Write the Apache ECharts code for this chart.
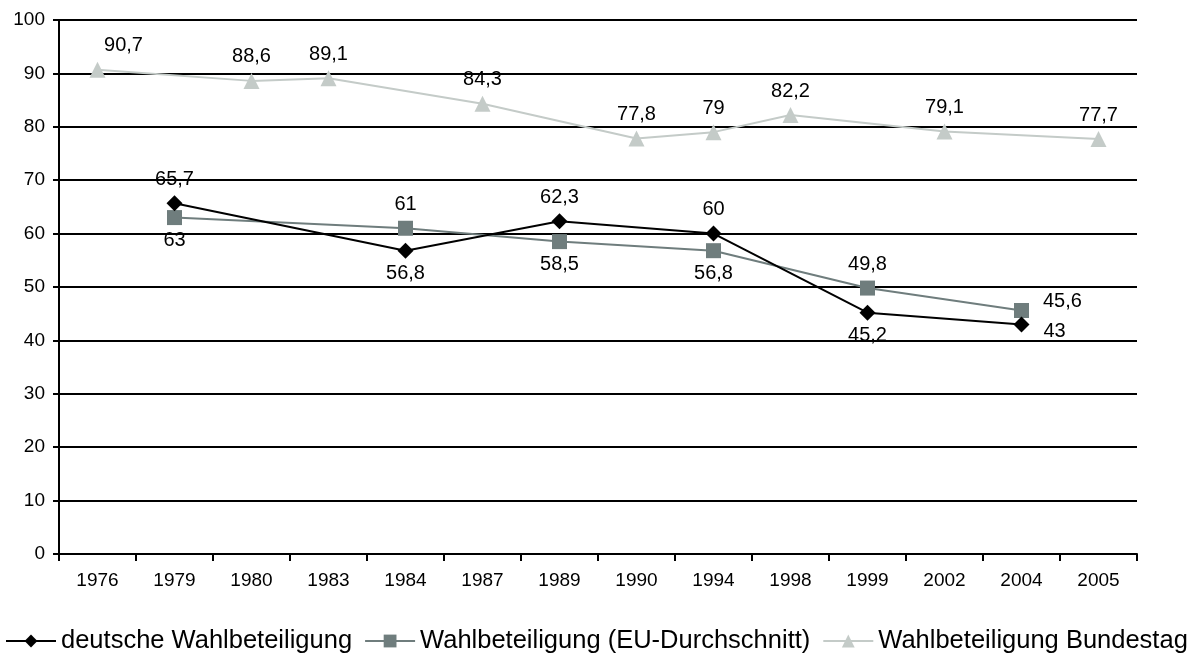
<!DOCTYPE html>
<html>
<head>
<meta charset="utf-8">
<script src="https://cdn.jsdelivr.net/npm/echarts@6/dist/echarts.min.js"></script>
<style>
  html, body { margin: 0; padding: 0; background: #fff; }
  #chart { width: 1200px; height: 659px; }
</style>
</head>
<body>
<div id="chart"></div>
<script>
const years = ['1976', '1979', '1980', '1983', '1984', '1987', '1989', '1990', '1994', '1998', '1999', '2002', '2004', '2005'];
const deutsche = [null, 65.7, null, null, 56.8, null, 62.3, null, 60, null, 45.2, null, 43, null];
const euSchnitt = [null, 63, null, null, 61, null, 58.5, null, 56.8, null, 49.8, null, 45.6, null];
const bundestag = [90.7, null, 88.6, 89.1, null, 84.3, null, 77.8, 79, 82.2, null, 79.1, null, 77.7];

// label placement per point: 't' top, 'b' bottom, 'rt'/'rb' right, 'tr' top-right
const deutscheLabelPos = [null, 't', null, null, 'b', null, 't', null, 't', null, 'b', null, 'rb', null];
const euLabelPos = [null, 'b', null, null, 't', null, 'b', null, 'b', null, 't', null, 'rt', null];
const bundestagLabelPos = ['tr', null, 't', 't', null, 't', null, 't', 't', 't', null, 't', null, 't'];

const fmt = (p) => String(p.value).replace('.', ',');
const labelText = { color: '#000', fontSize: 20, fontFamily: 'Liberation Sans, Arial', formatter: fmt };

function withLabels(values, positions) {
  return values.map((v, i) => {
    if (v === null) return null;
    const pos = positions[i];
    let label;
    if (pos === 't') label = { position: 'top', distance: 6 };
    else if (pos === 'b') label = { position: 'bottom', distance: 5 };
    else if (pos === 'tr') label = { position: 'top', distance: 6, offset: [26, 0] };
    else if (pos === 'rb') label = { position: 'right', distance: 14, offset: [0, 7] };
    else label = { position: 'right', distance: 14, offset: [0, -9] };
    return { value: v, label: label };
  });
}

const chart = echarts.init(document.getElementById('chart'));
chart.setOption({
  animation: false,
  backgroundColor: '#fff',
  textStyle: { fontFamily: 'Liberation Sans, Arial' },
  grid: { left: 59, right: 63, top: 20, bottom: 105 },
  legend: {
    bottom: 0,
    left: 0,
    itemWidth: 50,
    itemHeight: 16,
    itemGap: 12,
    textStyle: { fontSize: 25.5, color: '#000', fontFamily: 'Liberation Sans, Arial' },
    data: ['deutsche Wahlbeteiligung', 'Wahlbeteiligung (EU-Durchschnitt)', 'Wahlbeteiligung Bundestag']
  },
  xAxis: {
    type: 'category',
    data: years,
    boundaryGap: true,
    axisLine: { lineStyle: { color: '#000', width: 2 } },
    axisTick: { show: true, length: 7, lineStyle: { color: '#000', width: 2 } },
    axisLabel: { color: '#000', fontSize: 19, margin: 17 }
  },
  yAxis: {
    type: 'value',
    min: 0,
    max: 100,
    interval: 10,
    axisLine: { show: true, lineStyle: { color: '#000', width: 2 } },
    axisTick: { show: true, length: 6, lineStyle: { color: '#000', width: 2 } },
    axisLabel: { color: '#000', fontSize: 19, margin: 14 },
    splitLine: { lineStyle: { color: '#000', width: 2 } }
  },
  series: [
    {
      name: 'deutsche Wahlbeteiligung',
      type: 'line',
      connectNulls: true,
      data: withLabels(deutsche, deutscheLabelPos),
      symbol: 'diamond',
      symbolSize: 16,
      z: 4,
      lineStyle: { color: '#000', width: 2 },
      itemStyle: { color: '#000' },
      label: Object.assign({ show: true }, labelText)
    },
    {
      name: 'Wahlbeteiligung (EU-Durchschnitt)',
      type: 'line',
      connectNulls: true,
      data: withLabels(euSchnitt, euLabelPos),
      symbol: 'rect',
      symbolSize: 15,
      z: 3,
      lineStyle: { color: '#6f7d7d', width: 2 },
      itemStyle: { color: '#6f7d7d' },
      label: Object.assign({ show: true }, labelText)
    },
    {
      name: 'Wahlbeteiligung Bundestag',
      type: 'line',
      connectNulls: true,
      data: withLabels(bundestag, bundestagLabelPos),
      symbol: 'triangle',
      symbolSize: 16,
      z: 2,
      lineStyle: { color: '#c4cbc8', width: 2 },
      itemStyle: { color: '#c4cbc8' },
      label: Object.assign({ show: true }, labelText)
    }
  ]
});
</script>
</body>
</html>
